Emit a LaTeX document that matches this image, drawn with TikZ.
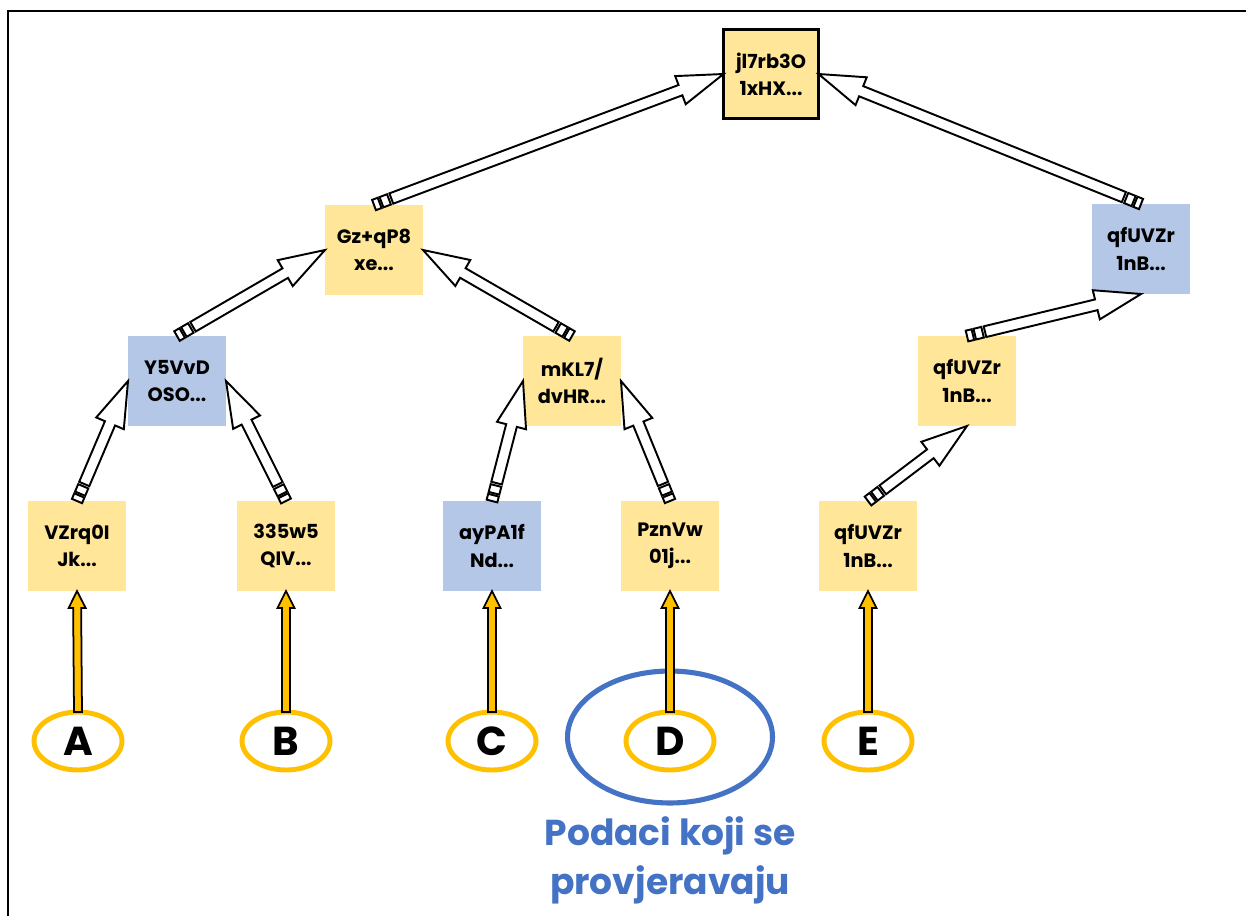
\documentclass[tikz,border=0pt]{standalone}
\usepackage{fontspec}
\setmainfont{Poppins}
\usetikzlibrary{calc,shapes.geometric}
\definecolor{boxyellow}{HTML}{FFE699}
\definecolor{boxblue}{HTML}{B4C7E7}
\definecolor{ringgold}{HTML}{FFC000}
\definecolor{ringblue}{HTML}{4472C4}

\newcommand{\stripedarrow}[2]{%
  \foreach \dist/\lbl in {0cm/p0,0.12cm/p1,0.16cm/p2,0.32cm/p3,0.37cm/p4}{%
    \coordinate (l\lbl) at ($(#1)!\dist!(#2)!0.11cm!90:(#2)$);
    \coordinate (r\lbl) at ($(#1)!\dist!(#2)!0.11cm!-90:(#2)$);}
  \coordinate (hl) at ($(#2)!0.92cm!(#1)!0.11cm!-90:(#1)$);
  \coordinate (hr) at ($(#2)!0.92cm!(#1)!0.11cm!90:(#1)$);
  \coordinate (wl) at ($(#2)!0.92cm!(#1)!0.3cm!-90:(#1)$);
  \coordinate (wr) at ($(#2)!0.92cm!(#1)!0.3cm!90:(#1)$);
  \draw[hollow] (lp0) -- (lp1) -- (rp1) -- (rp0) -- cycle;
  \draw[hollow] (lp2) -- (lp3) -- (rp3) -- (rp2) -- cycle;
  \draw[hollow] (lp4) -- (hl) -- (wl) -- (#2) -- (wr) -- (hr) -- (rp4) -- cycle;}

\newcommand{\feedarrow}[2]{%
  \coordinate (fa) at ($(#1)!0.08cm!90:(#2)$);
  \coordinate (fb) at ($(#1)!0.08cm!-90:(#2)$);
  \coordinate (fc) at ($(#2)!0.34cm!(#1)!0.08cm!90:(#1)$);
  \coordinate (fd) at ($(#2)!0.34cm!(#1)!0.08cm!-90:(#1)$);
  \coordinate (fe) at ($(#2)!0.34cm!(#1)!0.17cm!90:(#1)$);
  \coordinate (ff) at ($(#2)!0.34cm!(#1)!0.17cm!-90:(#1)$);
  \draw[feed] (fa) -- (fd) -- (ff) -- (#2) -- (fe) -- (fc) -- (fb) -- cycle;}

\begin{document}
\begin{tikzpicture}[x=0.02cm,y=-0.02cm]
\tikzstyle{every node}=[inner sep=0pt, outer sep=0pt, align=center]
\tikzstyle{hashbox}=[rectangle, minimum width=1.96cm, minimum height=1.8cm, font=\fontsize{11}{15.5}\selectfont\bfseries]
\tikzstyle{ybox}=[hashbox, fill=boxyellow]
\tikzstyle{bbox}=[hashbox, fill=boxblue]
\tikzstyle{leaf}=[ellipse, draw=ringgold, line width=2.8pt, minimum width=1.76cm, minimum height=1.16cm, font=\fontsize{23}{23}\selectfont\bfseries]
\tikzstyle{hollow}=[draw=black, fill=white, line width=1.1pt, line join=miter]
\tikzstyle{feed}=[draw=black, fill=ringgold, line width=1pt, line join=miter]
\useasboundingbox (0,0) rectangle (1246,916);
\draw[line width=1.2pt] (8,916) -- (8,11) -- (1246,11);
\draw (771,74) node (root) [ybox, draw, line width=1.7pt, minimum width=1.9cm, minimum height=1.78cm] {jl7rb3O\\1xHX...};
\draw (374,250) node (gz) [ybox] {Gz+qP8\\xe...};
\draw (1141,249) node (qfr) [bbox] {qfUVZr\\1nB...};
\draw (177,381) node (y5) [bbox] {Y5VvD\\OSO...};
\draw (572,381) node (mkl) [ybox] {mKL7/\\dvHR...};
\draw (967,381) node (qfm) [ybox] {qfUVZr\\1nB...};
\draw (77,546) node (vz) [ybox] {VZrq0I\\Jk...};
\draw (286,546) node (w5) [ybox] {335w5\\QIV...};
\draw (492,546) node (ay) [bbox] {ayPA1f\\Nd...};
\draw (670,546) node (pz) [ybox] {PznVw\\01j...};
\draw (868,546) node (qfb) [ybox] {qfUVZr\\1nB...};
\draw (670,737) node (ring) [ellipse, draw=ringblue, line width=2.9pt, minimum width=4.1cm, minimum height=2.64cm] {};
\draw (78,741) node (a) [leaf] {A};
\draw (286,741) node (b) [leaf] {B};
\draw (492,741) node (c) [leaf] {C};
\draw (670,741) node (d) [leaf] {D};
\draw (868,741) node (e) [leaf] {E};
\draw (670,860) node (note) [text=ringblue, font=\fontsize{20.5}{28}\selectfont\bfseries] {Podaci koji se\\provjeravaju};
\stripedarrow{gz.north}{root.west}
\stripedarrow{qfr.north}{root.east}
\stripedarrow{y5.north}{gz.west}
\stripedarrow{mkl.north}{gz.east}
\stripedarrow{qfm.north}{qfr.south}
\stripedarrow{vz.north}{y5.west}
\stripedarrow{w5.north}{y5.east}
\stripedarrow{ay.north}{mkl.west}
\stripedarrow{pz.north}{mkl.east}
\stripedarrow{qfb.north}{qfm.south}
\feedarrow{a.north}{vz.south}
\feedarrow{b.north}{w5.south}
\feedarrow{c.north}{ay.south}
\feedarrow{d.north}{pz.south}
\feedarrow{e.north}{qfb.south}
\end{tikzpicture}
\end{document}
